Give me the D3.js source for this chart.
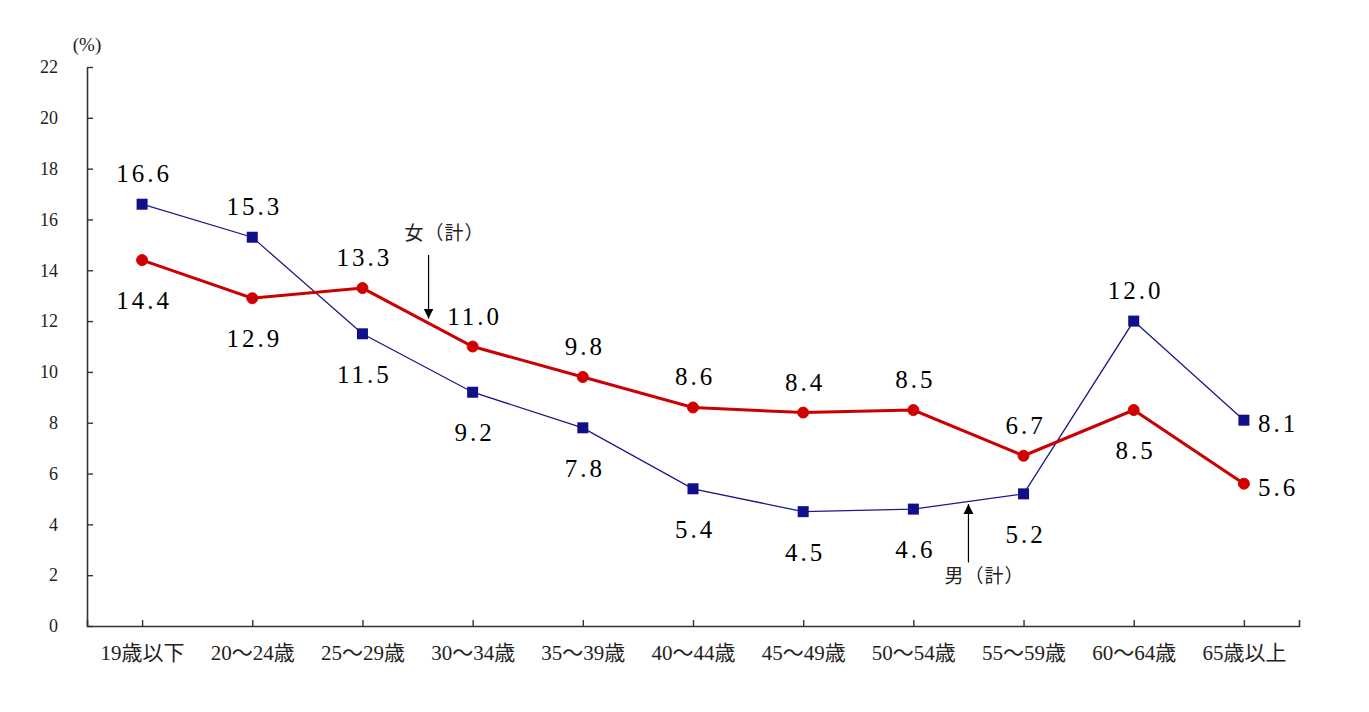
<!DOCTYPE html>
<html>
<head>
<meta charset="utf-8">
<script src="https://cdn.jsdelivr.net/npm/d3@7"></script>
<style>
  body { margin: 0; background: #fff; }
</style>
</head>
<body>
<div id="chart"></div>
<script>
// Data
const categories = ["19歳以下", "20～24歳", "25～29歳", "30～34歳", "35～39歳", "40～44歳",
                    "45～49歳", "50～54歳", "55～59歳", "60～64歳", "65歳以上"];
const maleValues   = [16.6, 15.3, 11.5, 9.2, 7.8, 5.4, 4.5, 4.6, 5.2, 12.0, 8.1];
const femaleValues = [14.4, 12.9, 13.3, 11.0, 9.8, 8.6, 8.4, 8.5, 6.7, 8.5, 5.6];
// where each value label sits: a = above, b = below, r = right
const maleLabelSide   = ["a", "a", "b", "b", "b", "b", "b", "b", "b", "a", "r"];
const femaleLabelSide = ["b", "b", "a", "a", "a", "a", "a", "a", "a", "b", "r"];
const yTicks = [0, 2, 4, 6, 8, 10, 12, 14, 16, 18, 20, 22];

const serif = "'Liberation Serif', 'DejaVu Serif', 'Noto Sans CJK JP', serif";
const width = 1369, height = 712;
const margin = { top: 67, right: 70, bottom: 86, left: 87 };

const svg = d3.select("#chart")
    .append("svg")
    .attr("width", width)
    .attr("height", height);

const x = d3.scalePoint()
    .domain(categories)
    .range([margin.left, width - margin.right])
    .padding(0.5);

const y = d3.scaleLinear()
    .domain([0, 22])
    .range([height - margin.bottom, margin.top]);

// position between categories (fractional index)
const xAt = i => x(categories[0]) + i * x.step();

// Axes
const yAxis = svg.append("g")
    .attr("transform", `translate(${margin.left},0)`)
    .call(d3.axisLeft(y).tickValues(yTicks).tickSize(-6).tickSizeOuter(0).tickPadding(29));

const xAxis = svg.append("g")
    .attr("transform", `translate(0,${height - margin.bottom})`)
    .call(d3.axisBottom(x).tickSize(-6).tickSizeOuter(-6).tickPadding(19));

[yAxis, xAxis].forEach(g => {
    g.select(".domain").attr("stroke", "#333").attr("stroke-width", 1.6);
    g.selectAll(".tick line").attr("stroke", "#333").attr("stroke-width", 1.4);
    g.selectAll("text").attr("fill", "#222").style("font-family", serif);
});
yAxis.selectAll("text").style("font-size", "18px");
xAxis.selectAll("text").style("font-size", "21px");

svg.append("text")
    .attr("x", 87)
    .attr("y", 51)
    .attr("text-anchor", "middle")
    .style("font-family", serif)
    .style("font-size", "19px")
    .attr("fill", "#222")
    .text("(%)");

// Lines
const line = d3.line()
    .x((d, i) => x(categories[i]))
    .y(d => y(d));

svg.append("path")
    .datum(maleValues)
    .attr("fill", "none")
    .attr("stroke", "#1a1a8c")
    .attr("stroke-width", 1.3)
    .attr("d", line);

svg.append("path")
    .datum(femaleValues)
    .attr("fill", "none")
    .attr("stroke", "#cc0000")
    .attr("stroke-width", 3)
    .attr("d", line);

// Markers
svg.selectAll(".male-pt")
    .data(maleValues)
    .enter()
    .append("rect")
    .attr("x", (d, i) => x(categories[i]) - 5.5)
    .attr("y", d => y(d) - 5.5)
    .attr("width", 11)
    .attr("height", 11)
    .attr("fill", "#10108a");

svg.selectAll(".female-pt")
    .data(femaleValues)
    .enter()
    .append("circle")
    .attr("cx", (d, i) => x(categories[i]))
    .attr("cy", d => y(d))
    .attr("r", 5.5)
    .attr("fill", "#cc0000")
    .attr("stroke", "#e00000")
    .attr("stroke-width", 1);

// Value labels
function addLabels(values, sides) {
    svg.append("g")
        .selectAll("text")
        .data(values)
        .enter()
        .append("text")
        .attr("x", (d, i) => x(categories[i]) + (sides[i] === "r" ? 14 : 2))
        .attr("y", (d, i) => y(d) + (sides[i] === "a" ? -22 : sides[i] === "b" ? 49 : 12))
        .attr("text-anchor", (d, i) => sides[i] === "r" ? "start" : "middle")
        .style("font-family", serif)
        .style("font-size", "25px")
        .style("letter-spacing", "3px")
        .attr("fill", "#000")
        .text(d => d.toFixed(1));
}
addLabels(maleValues, maleLabelSide);
addLabels(femaleValues, femaleLabelSide);

// Annotations with arrows
svg.append("defs").append("marker")
    .attr("id", "arrow")
    .attr("viewBox", "0 0 10 10")
    .attr("refX", 10)
    .attr("refY", 5)
    .attr("markerWidth", 10)
    .attr("markerHeight", 12)
    .attr("markerUnits", "userSpaceOnUse")
    .attr("orient", "auto")
    .append("path")
    .attr("d", "M0,0L10,5L0,10Z")
    .attr("fill", "#000");

const notes = [
    { text: "女（計）", at: 2.6, textValue: 15.2, from: 14.6, to: 12.1 },
    { text: "男（計）", at: 7.5, textValue: 1.7, from: 2.5, to: 4.8 }
];

notes.forEach(n => {
    svg.append("line")
        .attr("x1", xAt(n.at)).attr("y1", y(n.from))
        .attr("x2", xAt(n.at)).attr("y2", y(n.to))
        .attr("stroke", "#000")
        .attr("stroke-width", 1.2)
        .attr("marker-end", "url(#arrow)");
    svg.append("text")
        .attr("x", xAt(n.at) + 16)
        .attr("y", y(n.textValue))
        .attr("text-anchor", "middle")
        .style("font-size", "19px")
        .style("letter-spacing", "1px")
        .attr("fill", "#222")
        .style("font-family", "'Noto Sans CJK JP', sans-serif")
        .text(n.text);
});
</script>
</body>
</html>
